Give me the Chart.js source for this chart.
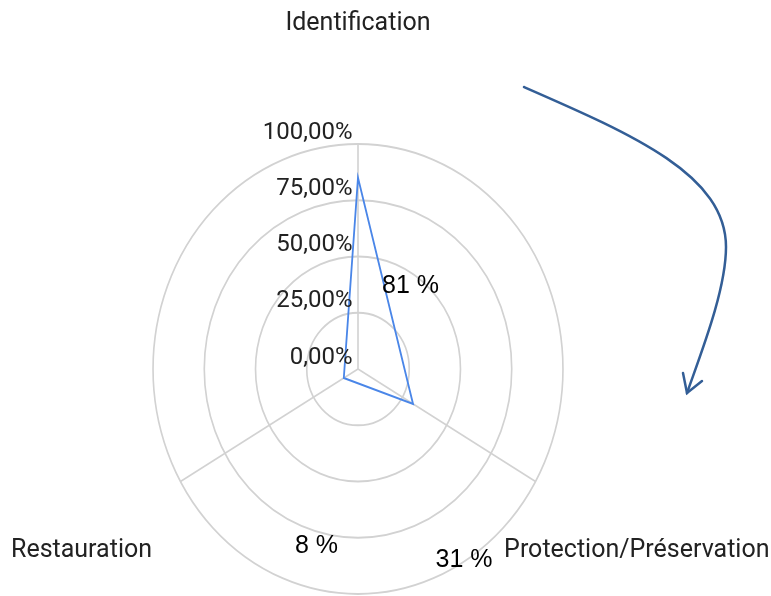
<!DOCTYPE html>
<html>
<head>
<meta charset="utf-8">
<script src="https://cdn.jsdelivr.net/npm/chart.js@4/dist/chart.umd.min.js"></script>
<style>
  html, body { margin: 0; padding: 0; background: #ffffff; overflow: hidden; }
  #grafico-wrap { width: 771px; height: 596px; position: relative; }
</style>
</head>
<body>
<div id="grafico-wrap"><canvas id="grafico"></canvas></div>
<script>
// dados:
const categorias = ["Identification", "Protection/Préservation", "Restauration"];
const valores = [85, 31, 8];
const rotulosValores = ["81 %", "31 %", "8 %"];
const ticksValores = [0, 25, 50, 75, 100];
const ticksRotulos = ["0,00%", "25,00%", "50,00%", "75,00%", "100,00%"];

// o gráfico original está achatado na horizontal
const ESCALA_X = 0.911;

// plugins:
const achatar = {
  id: "achatar",
  beforeDraw(chart) {
    const r = chart.scales.r;
    const ctx = chart.ctx;
    ctx.save();
    ctx.translate(r.xCenter, 0);
    ctx.scale(ESCALA_X, 1);
    ctx.translate(-r.xCenter, 0);
  },
  afterDraw(chart) {
    chart.ctx.restore();
  },
};

const textos = {
  id: "textos",
  afterDraw(chart) {
    const r = chart.scales.r;
    const ctx = chart.ctx;
    ctx.save();
    ctx.textBaseline = "alphabetic";

    // rótulos dos ticks
    ctx.font = '24px Roboto, "Noto Sans", sans-serif';
    ctx.fillStyle = "#222222";
    ctx.textAlign = "right";
    ticksValores.forEach((v, i) => {
      const dist = r.getDistanceFromCenterForValue(v);
      ctx.fillText(ticksRotulos[i], r.xCenter - 5.5, r.yCenter - dist - 5.5);
    });

    // categorias
    ctx.font = '25px Roboto, "Noto Sans", sans-serif';
    ctx.textAlign = "center";
    ctx.fillText(categorias[0], r.xCenter, 30);
    ctx.textAlign = "right";
    ctx.fillText(categorias[1], 769.5, 557);
    ctx.textAlign = "left";
    ctx.fillText(categorias[2], 11, 557);

    // valores escritos
    ctx.font = '25px "Liberation Sans", Arial, sans-serif';
    ctx.fillStyle = "#000000";
    ctx.textAlign = "left";
    ctx.fillText(rotulosValores[0], 382, 293);
    ctx.fillText(rotulosValores[1], 435.5, 567);
    ctx.fillText(rotulosValores[2], 295, 553);

    // seta curva
    ctx.strokeStyle = "#335e96";
    ctx.lineWidth = 2.5;
    ctx.lineCap = "round";
    ctx.beginPath();
    ctx.moveTo(524, 87);
    ctx.bezierCurveTo(634, 135, 726, 175, 726, 247);
    ctx.bezierCurveTo(726, 290, 701, 353, 687, 393);
    ctx.stroke();
    ctx.beginPath();
    ctx.moveTo(683, 373);
    ctx.lineTo(687, 393);
    ctx.lineTo(702, 381);
    ctx.stroke();

    ctx.restore();
  },
};

// gráfico:
function gerarGrafico() {
  return new Chart(document.getElementById("grafico"), {
    type: "radar",
    data: {
      labels: categorias,
      datasets: [
        {
          data: valores,
          borderColor: "#4a86e8",
          borderWidth: 2,
          pointRadius: 0,
          pointHoverRadius: 0,
          fill: false,
        },
      ],
    },
    options: {
      responsive: true,
      maintainAspectRatio: false,
      animation: false,
      layout: {
        padding: { left: 133, right: 188, top: 142, bottom: 0 },
      },
      plugins: {
        legend: { display: false },
        tooltip: { enabled: false },
      },
      scales: {
        r: {
          min: 0,
          max: 100,
          ticks: { display: false, stepSize: 25 },
          pointLabels: { display: false },
          grid: { circular: true, color: "#d2d2d2", lineWidth: 1.8 },
          angleLines: { color: "#d2d2d2", lineWidth: 1.8 },
        },
      },
    },
    plugins: [achatar, textos],
  });
}

gerarGrafico();
</script>
</body>
</html>
